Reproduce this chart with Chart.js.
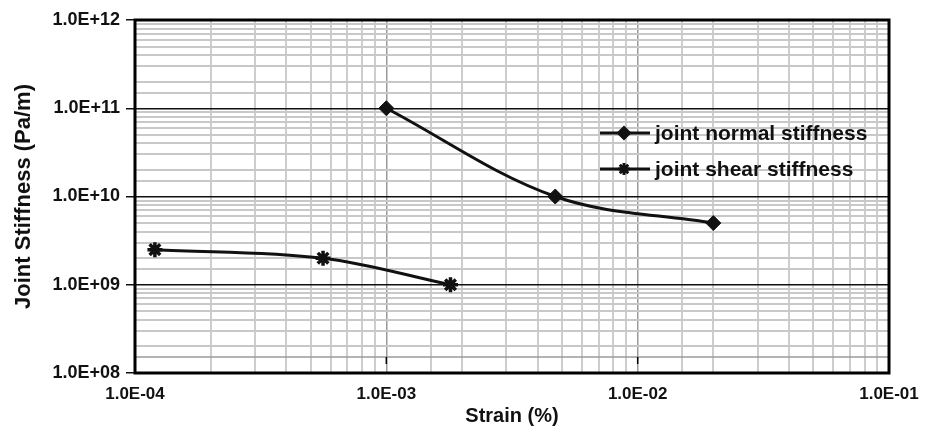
<!DOCTYPE html>
<html>
<head>
<meta charset="utf-8">
<title>Joint stiffness vs strain</title>
<script src="https://cdn.jsdelivr.net/npm/chart.js@4/dist/chart.umd.min.js"></script>
<style>
  html,body{margin:0;padding:0;background:#fff}
  #wrap{width:931px;height:429px}
</style>
</head>
<body>
<div id="wrap"><canvas id="stiffChart" width="931" height="429"></canvas></div>
<script>
// strain (%) vs joint stiffness (Pa/m), both on log axes
const normalStrain = [1.0e-3, 4.7e-3, 2.0e-2];
const normalStiff  = [1.0e11, 1.0e10, 5.0e9];
const shearStrain  = [1.2e-4, 5.6e-4, 1.8e-3];
const shearStiff   = [2.5e9, 2.0e9, 1.0e9];

const seriesNames = ['joint normal stiffness', 'joint shear stiffness'];
const xRange = [1e-4, 1e-1];
const yRange = [1e8, 1e12];

const FONT = 'Arial, "Liberation Sans", sans-serif';

function isDecade(v){ const e = Math.log10(v); return Math.abs(e - Math.round(e)) < 1e-6; }
function sci(v){
  const e = Math.round(Math.log10(v));
  return '1.0E' + (e < 0 ? '-' : '+') + String(Math.abs(e)).padStart(2, '0');
}
function pts(xs, ys){ return xs.map((x, i) => ({x, y: ys[i]})); }

// frame + inner legend, drawn after the datasets
const framePlugin = {
  id: 'frame',
  afterDraw(chart){
    const {ctx, chartArea: a, scales} = chart;
    ctx.save();
    // lower rule with small decade ticks
    const yr = scales.y.getPixelForValue(1.52e8);
    ctx.strokeStyle = '#9a9a9a'; ctx.lineWidth = 1.5;
    ctx.beginPath(); ctx.moveTo(a.left, yr); ctx.lineTo(a.right, yr); ctx.stroke();
    ctx.strokeStyle = '#000'; ctx.lineWidth = 1.5;
    scales.x.ticks.forEach(t => {
      if (!isDecade(t.value)) return;
      const px = scales.x.getPixelForValue(t.value);
      ctx.beginPath(); ctx.moveTo(px, yr); ctx.lineTo(px, yr + 7); ctx.stroke();
    });
    ctx.lineWidth = 3; ctx.strokeStyle = '#000';
    ctx.strokeRect(a.left, a.top, a.right - a.left, a.bottom - a.top);

    // legend
    const lx = a.right - 289, ly = a.top + 113, gap = 36;
    ctx.font = 'bold 21px ' + FONT;
    ctx.textBaseline = 'middle';
    ctx.fillStyle = '#111';
    chart.data.datasets.forEach((ds, i) => {
      const y = ly + i * gap;
      ctx.strokeStyle = '#111'; ctx.lineWidth = 3;
      ctx.beginPath(); ctx.moveTo(lx, y); ctx.lineTo(lx + 50, y); ctx.stroke();
      Chart.helpers.drawPoint(ctx, {
        pointStyle: ds.pointStyle, radius: i === 0 ? 5.5 : 6,
        borderWidth: ds.pointBorderWidth, rotation: 0
      }, lx + 24, y);
      ctx.fillStyle = '#111'; ctx.strokeStyle = '#111';
      ctx.fillText(ds.label, lx + 55, y + 1);
    });
    ctx.restore();
  }
};

const ctx = document.getElementById('stiffChart').getContext('2d');
new Chart(ctx, {
  type: 'line',
  data: {
    datasets: [
      {
        label: seriesNames[0], data: pts(normalStrain, normalStiff),
        borderColor: '#111', backgroundColor: '#111', borderWidth: 3,
        pointStyle: 'rectRot', pointRadius: 7.5, pointBorderWidth: 1,
        pointBackgroundColor: '#111', pointBorderColor: '#111',
        tension: 0.35, fill: false
      },
      {
        label: seriesNames[1], data: pts(shearStrain, shearStiff),
        borderColor: '#111', backgroundColor: '#111', borderWidth: 3,
        pointStyle: 'star', pointRadius: 7.5, pointBorderWidth: 3.5,
        pointBackgroundColor: '#111', pointBorderColor: '#111',
        tension: 0.35, fill: false
      }
    ]
  },
  options: {
    responsive: false,
    animation: false,
    devicePixelRatio: 1,
    layout: {padding: {left: 0, top: 20, right: 42, bottom: 0}},
    plugins: {legend: {display: false}, tooltip: {enabled: false}},
    scales: {
      x: {
        type: 'logarithmic', min: xRange[0], max: xRange[1],
        afterFit(s){ s.height = 56; },
        border: {display: false},
        grid: {
          drawTicks: false,
          color: c => isDecade(c.tick.value) ? '#9a9a9a' : '#cdcdcd',
          lineWidth: c => isDecade(c.tick.value) ? 1.5 : 2
        },
        ticks: {
          autoSkip: false, maxRotation: 0, padding: 11, color: '#111',
          font: {family: FONT, size: 17, weight: 'bold'},
          callback: v => isDecade(v) ? sci(v) : ''
        },
        title: {
          display: true, text: 'Strain (%)', color: '#111',
          font: {family: FONT, size: 20, weight: 'bold'},
          padding: {top: 0, bottom: 1}
        }
      },
      y: {
        type: 'logarithmic', min: yRange[0], max: yRange[1],
        afterFit(s){ s.width = 135; },
        border: {display: false},
        grid: {
          tickLength: 9,
          color: c => isDecade(c.tick.value) ? '#111' : '#c8c8c8',
          tickColor: c => isDecade(c.tick.value) ? '#111' : 'rgba(0,0,0,0)',
          lineWidth: c => isDecade(c.tick.value) ? 1.5 : 2
        },
        ticks: {
          autoSkip: false, padding: 6, color: '#111',
          font: {family: FONT, size: 18, weight: 'bold'},
          callback: v => isDecade(v) ? sci(v) : ''
        },
        title: {
          display: true, text: 'Joint Stiffness (Pa/m)', color: '#111',
          font: {family: FONT, size: 22, weight: 'bold'},
          padding: {top: 11, bottom: 0}
        }
      }
    }
  },
  plugins: [framePlugin]
});
</script>
</body>
</html>
